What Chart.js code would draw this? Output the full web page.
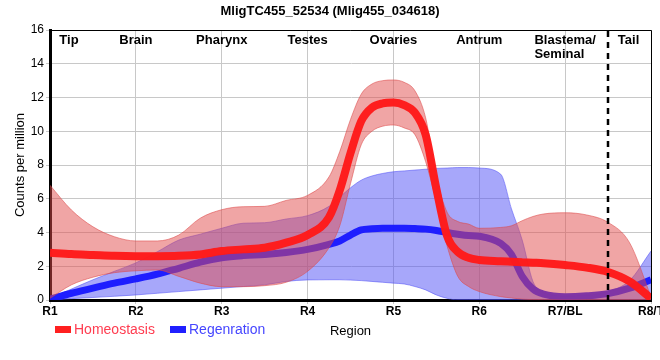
<!DOCTYPE html>
<html>
<head>
<meta charset="utf-8">
<script src="https://cdn.jsdelivr.net/npm/chart.js@4/dist/chart.umd.min.js"></script>
<style>
  html, body { margin: 0; padding: 0; background: #fff; }
  #wrap { width: 660px; height: 360px; position: relative; }
</style>
</head>
<body>
<div id="wrap"><canvas id="c" width="660" height="360"></canvas></div>
<script>
// --- Data ---
const categories = ['R1', 'R2', 'R3', 'R4', 'R5', 'R6', 'R7/BL', 'R8/T'];
const regions = ['Tip', 'Brain', 'Pharynx', 'Testes', 'Ovaries', 'Antrum', 'Blastema/\nSeminal', 'Tail'];
const yTicks = [0, 2, 4, 6, 8, 10, 12, 14, 16];
const dividerAt = 6.5; // between R7/BL and R8/T

// sample positions along the region axis (0 = R1 ... 7 = R8/T), denser where curves turn fast
const samplePos = [0, 0.25, 0.5, 0.75, 1, 1.25, 1.5, 1.75, 2, 2.25, 2.5, 2.75, 3,
                   3.25, 3.375, 3.5, 3.625, 3.75, 3.875, 4, 4.125, 4.25, 4.375, 4.5, 4.625, 4.75, 4.875, 5,
                   5.25, 5.375, 5.5, 5.625, 5.75, 6, 6.25, 6.5, 6.75, 7];

const homeoMean  = [2.8, 2.72, 2.67, 2.62, 2.6, 2.6, 2.62, 2.7, 2.9, 3.0, 3.1, 3.4, 3.85,
                    4.9, 6.5, 8.7, 10.6, 11.4, 11.65, 11.7, 11.55, 11.1, 9.8, 6.6, 3.8, 2.85, 2.5, 2.37,
                    2.3, 2.27, 2.24, 2.21, 2.18, 2.07, 1.92, 1.66, 1.1, 0.1];
const homeoUpper = [6.8, 5.33, 4.34, 3.75, 3.5, 3.5, 3.85, 4.85, 5.35, 5.53, 5.55, 5.9, 6.2,
                    7.3, 8.8, 10.7, 12.2, 12.8, 13.0, 13.04, 12.9, 12.4, 10.8, 7.3, 5.2, 4.65, 4.5, 4.25,
                    4.3, 4.4, 4.7, 4.95, 5.1, 5.17, 5.04, 4.6, 3.4, 0.2];
const homeoLower = [0.1, 0.9, 1.35, 1.62, 1.73, 1.78, 1.4, 1.0, 0.79, 0.79, 0.85, 1.05, 1.7,
                    3.1, 4.4, 6.9, 9.2, 10.0, 10.3, 10.37, 10.2, 9.8, 8.2, 5.8, 3.2, 1.4, 0.8, 0.5,
                    0.2, 0.12, 0.05, 0.02, 0, 0, 0, 0, 0, 0];

const regenMean  = [0.05, 0.4, 0.7, 1.0, 1.25, 1.53, 1.88, 2.24, 2.5, 2.63, 2.7, 2.82, 3.0,
                    3.3, 3.5, 3.85, 4.15, 4.22, 4.25, 4.25, 4.25, 4.23, 4.2, 4.12, 4.0, 3.9, 3.82, 3.78,
                    3.35, 2.7, 1.4, 0.65, 0.35, 0.2, 0.25, 0.38, 0.7, 1.2];
const regenUpper = [0.1, 0.65, 1.2, 1.7, 2.2, 2.86, 3.55, 3.9, 4.25, 4.55, 4.58, 4.8, 5.0,
                    5.55, 6.1, 6.65, 7.1, 7.35, 7.5, 7.6, 7.65, 7.7, 7.75, 7.8, 7.82, 7.85, 7.85, 7.82,
                    7.45, 5.4, 3.55, 1.1, 0.45, 0.25, 0.28, 0.5, 1.15, 2.9];
const regenLower = [0, 0.08, 0.15, 0.22, 0.3, 0.4, 0.5, 0.6, 0.7, 0.8, 0.9, 1.1, 1.19,
                    1.2, 1.2, 1.18, 1.15, 1.1, 1.05, 1.0, 0.95, 0.8, 0.6, 0.3, 0.1, 0, 0, 0,
                    0, 0, 0, 0, 0, 0, 0, 0, 0, 0];

const FONT = '"Liberation Sans", Arial, sans-serif';
const pts = arr => samplePos.map((p, i) => ({ x: p, y: arr[i] }));

function line(data, color, width) {
    return { data: pts(data), borderColor: color, borderWidth: width, pointRadius: 0,
             cubicInterpolationMode: 'monotone', fill: false };
}
function band(data, edge, fillColor) {
    return { data: pts(data), borderColor: edge, borderWidth: 1, pointRadius: 0,
             cubicInterpolationMode: 'monotone', fill: fillColor ? { target: '+1' } : false,
             backgroundColor: fillColor || 'transparent' };
}

// --- Annotations drawn on top of the chart ---
const overlay = {
    id: 'overlay',
    afterDraw(chart) {
        const { ctx, chartArea: a, scales: { x } } = chart;
        ctx.save();

        // thin frame on top and right
        ctx.strokeStyle = '#000';
        ctx.lineWidth = 1;
        ctx.beginPath();
        ctx.moveTo(a.left, a.top + 0.5);
        ctx.lineTo(a.right + 0.5, a.top + 0.5);
        ctx.lineTo(a.right + 0.5, a.bottom);
        ctx.stroke();

        // dashed divider before the tail
        const xd = Math.round(x.getPixelForValue(dividerAt));
        ctx.setLineDash([6, 5]);
        ctx.lineWidth = 2.5;
        ctx.beginPath();
        ctx.moveTo(xd, a.top + 1);
        ctx.lineTo(xd, a.bottom);
        ctx.stroke();
        ctx.setLineDash([]);

        // region names along the top
        ctx.fillStyle = '#000';
        ctx.font = 'bold 13px ' + FONT;
        ctx.textBaseline = 'middle';
        regions.forEach((name, i) => {
            const lines = name.split('\n');
            let cx = x.getPixelForValue(i);
            if (i === 0) cx += 19;
            if (i === regions.length - 1) cx = (x.getPixelForValue(dividerAt) + x.getPixelForValue(i)) / 2 - 1;
            const w0 = ctx.measureText(lines[0]).width;
            ctx.textAlign = 'left';
            lines.forEach((t, k) => ctx.fillText(t, cx - w0 / 2, a.top + 10 + k * 14));
        });

        // title
        ctx.textAlign = 'center';
        ctx.font = 'bold 13px ' + FONT;
        ctx.fillText('MligTC455_52534 (Mlig455_034618)', 330, 11);

        // y axis title
        ctx.save();
        ctx.translate(20, (a.top + a.bottom) / 2);
        ctx.rotate(-Math.PI / 2);
        ctx.font = '13px ' + FONT;
        ctx.fillText('Counts per million', 0, 0);
        ctx.restore();

        // x axis title
        ctx.font = '13px ' + FONT;
        ctx.fillText('Region', (a.left + a.right) / 2, 331);

        // legend
        ctx.textAlign = 'left';
        ctx.font = '14px ' + FONT;
        ctx.fillStyle = '#ff2020';
        ctx.fillRect(55, 326, 16, 7);
        ctx.fillStyle = '#ff3c50';
        ctx.fillText('Homeostasis', 74, 330);
        ctx.fillStyle = '#2020ff';
        ctx.fillRect(170, 326, 16, 7);
        ctx.fillStyle = '#4646ff';
        ctx.fillText('Regenration', 189, 330);

        ctx.restore();
    }
};

new Chart(document.getElementById('c'), {
    type: 'line',
    data: {
        datasets: [
            line(homeoMean, 'rgba(255,26,26,0.97)', 8),
            band(homeoUpper, 'rgba(220,70,70,0.55)', 'rgba(225,75,75,0.5)'),
            band(homeoLower, 'rgba(220,70,70,0.55)', null),
            line(regenMean, 'rgba(26,26,255,0.97)', 7),
            band(regenUpper, 'rgba(80,80,245,0.55)', 'rgba(80,80,245,0.5)'),
            band(regenLower, 'rgba(80,80,245,0.55)', null)
        ]
    },
    options: {
        responsive: false,
        animation: false,
        layout: { padding: { top: 30, right: 9, left: 0, bottom: 0 } },
        plugins: { legend: { display: false }, tooltip: { enabled: false }, title: { display: false } },
        scales: {
            x: {
                type: 'linear', min: 0, max: 7,
                afterFit(s) { s.height = 60; s.paddingLeft = 0; s.paddingRight = 0; },
                afterBuildTicks(s) { s.ticks = categories.map((c, i) => ({ value: i })); },
                ticks: {
                    autoSkip: false, maxRotation: 0, padding: 0, color: '#000',
                    font: { family: FONT, size: 12, weight: 'bold' },
                    callback: v => categories[v]
                },
                grid: { color: '#c8c8c8', tickLength: 4 },
                border: { color: '#000', width: 3 }
            },
            y: {
                min: 0, max: 16,
                afterFit(s) { s.width = 50; s.paddingTop = 0; s.paddingBottom = 0; },
                afterBuildTicks(s) { s.ticks = yTicks.map(v => ({ value: v })); },
                ticks: { padding: 2, color: '#000', font: { family: FONT, size: 12 } },
                grid: { color: '#c8c8c8', tickLength: 4 },
                border: { color: '#000', width: 3 }
            }
        }
    },
    plugins: [overlay]
});
</script>
</body>
</html>
